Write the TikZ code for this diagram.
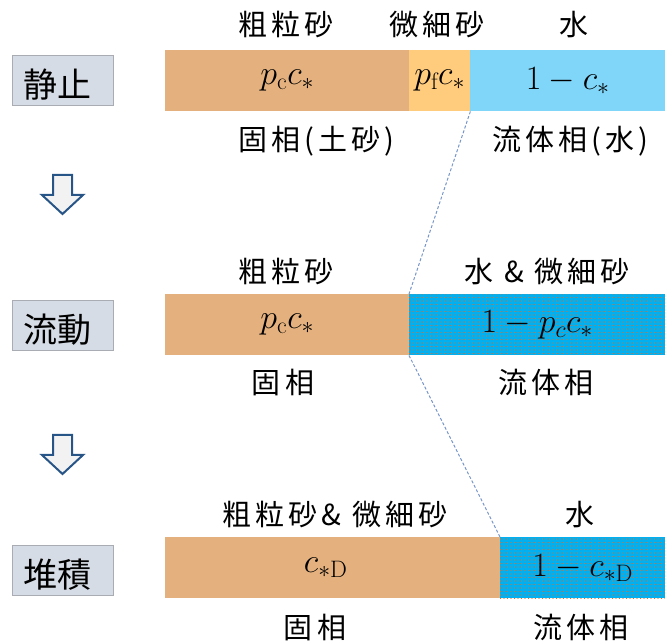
\RequirePackage{fix-cm}
\documentclass[tikz,border=0pt]{standalone}
\usepackage{fontspec}
\newfontfamily\jp[LetterSpace=14]{Noto Sans CJK JP}
\newfontfamily\jpstage{Noto Sans CJK JP}
\usetikzlibrary{patterns.meta}
\definecolor{brownc}{RGB}{228,177,126}
\definecolor{finec}{RGB}{255,203,125}
\definecolor{lightw}{RGB}{128,214,248}
\definecolor{pblue}{RGB}{0,176,240}
\definecolor{dotc}{RGB}{232,108,40}
\definecolor{stagefill}{RGB}{214,220,229}
\definecolor{stageedge}{RGB}{170,172,180}
\definecolor{arrowc}{RGB}{40,85,135}
\definecolor{arrowfill}{RGB}{242,242,242}
\definecolor{dashc}{RGB}{120,150,200}
\begin{document}
\begin{tikzpicture}[x=1pt,y=-1pt,
  jptext/.style={font=\jp\fontsize{29}{34}\selectfont, inner sep=0pt, anchor=base},
  bar/.style={anchor=north west, inner sep=0pt, minimum height=61pt, font=\fontsize{34}{40}\selectfont},
  stagebox/.style={draw=stageedge, line width=0.8pt, fill=stagefill, minimum width=101pt, minimum height=50pt, inner sep=0pt, text height=36pt, text depth=0pt, font=\jpstage\fontsize{34}{40}\selectfont},
  downarrow/.style={draw=arrowc, fill=arrowfill, line width=2pt, line join=miter},
  dashline/.style={draw=dashc, line width=1pt, dash pattern=on 3pt off 2pt},
  dotted blue/.style={preaction={fill=pblue}, pattern={Dots[radius=0.55pt, distance=3.5pt]}, pattern color=dotc}]
\useasboundingbox (0,0) rectangle (665,644);

% stage labels
\node[stagebox] (s1) at (62.5,80) {\hspace*{-10pt}静止};
\node[stagebox] (s2) at (62.5,325) {\hspace*{-10pt}流動};
\node[stagebox] (s3) at (62.5,570) {\hspace*{-10pt}堆積};

% down arrows
\draw[downarrow] (53,175) -- (72,175) -- (72,195) -- (83,195) -- (62.5,214) -- (42,195) -- (53,195) -- cycle;
\draw[downarrow] (53,435) -- (72,435) -- (72,455) -- (83,455) -- (62.5,474) -- (42,455) -- (53,455) -- cycle;

% row 1
\node[bar, fill=brownc, minimum width=244pt] (c1) at (165,50) {$p_{\mathrm{c}}c_*$};
\node[bar, fill=finec, minimum width=61pt] (f1) at (409,50) {$p_{\mathrm{f}}c_*$};
\node[bar, fill=lightw, minimum width=195pt] (w1) at (470,50) {$1-c_*$};

% row 2
\node[bar, fill=brownc, minimum width=244pt] (c2) at (165,294) {$p_{\mathrm{c}}c_*$};
\node[bar, dotted blue, minimum width=256pt] (w2) at (409,294) {$1-p_c c_*$};

% row 3
\node[bar, fill=brownc, minimum width=335pt] (c3) at (165,537) {\hspace*{-14pt}$c_{*\mathrm{D}}$};
\node[bar, dotted blue, minimum width=165pt] (w3) at (500,537) {$1-c_{*\mathrm{D}}$};

% dashed connectors
\draw[dashline] (f1.south east) -- (w2.north west);
\draw[dashline] (w2.south west) -- (w3.north west);

% texts row 1
\node[jptext] (t1a) at (286,36) {粗粒砂};
\node[jptext] (t1b) at (437,36) {微細砂};
\node[jptext] (t1c) at (574,36) {水};
\node[jptext] (b1a) at (316,151) {固相(土砂)};
\node[jptext] (b1b) at (570,151) {流体相(水)};

% texts row 2
\node[jptext] (t2a) at (286,283) {粗粒砂};
\node[jptext] (t2b) at (547,283) {水 \& 微細砂};
\node[jptext] (b2a) at (283,394) {固相};
\node[jptext] (b2b) at (546,394) {流体相};

% texts row 3
\node[jptext] (t3a) at (335,525.5) {粗粒砂\& 微細砂};
\node[jptext] (t3b) at (580,525.5) {水};
\node[jptext] (b3a) at (315,638) {固相};
\node[jptext] (b3b) at (581,638) {流体相};
\end{tikzpicture}
\end{document}
